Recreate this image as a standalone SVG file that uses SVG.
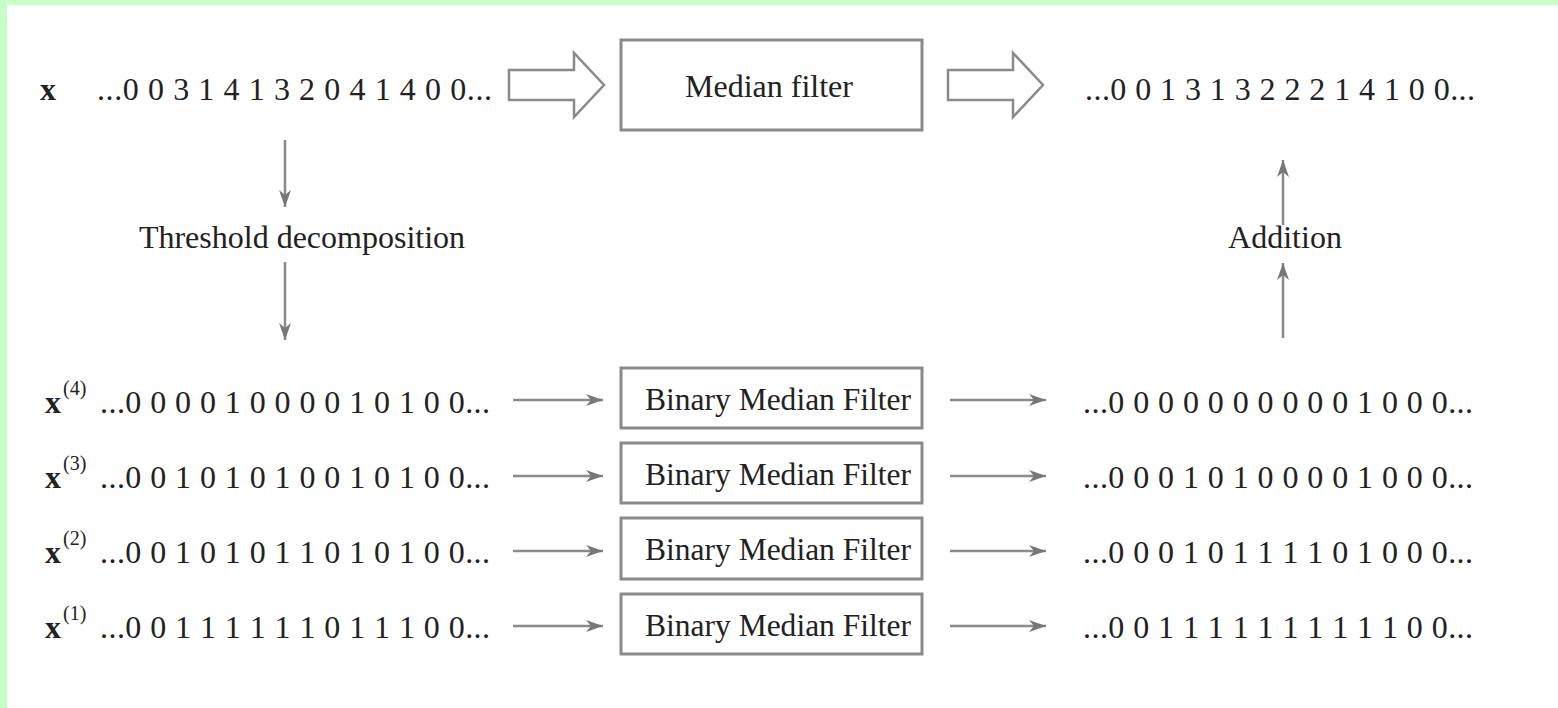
<svg xmlns="http://www.w3.org/2000/svg" width="1558" height="708" viewBox="0 0 1558 708">
  <defs>
    <style>
      .t { font-family: "Liberation Serif", "Times New Roman", serif; font-size: 32px; fill: #222; }
      .b { font-weight: bold; }
      .sup { font-size: 20px; }
      .box { fill: #fff; stroke: #8a8a8a; stroke-width: 3; }
      .hollow { fill: #fff; stroke: #8a8a8a; stroke-width: 2.5; stroke-linejoin: miter; }
      .ln { stroke: #8a8a8a; stroke-width: 2.5; fill: none; }
    </style>
    <marker id="ah" markerUnits="userSpaceOnUse" markerWidth="20" markerHeight="14" viewBox="-18 -7 20 14" refX="0" refY="0" orient="auto">
      <path d="M0,0 L-17,-6 L-12,0 L-17,6 Z" fill="#777"/>
    </marker>
  </defs>
  <rect x="0" y="0" width="1558" height="708" fill="#c6ffc6"/>
  <rect x="7" y="5" width="1551" height="703" fill="#fff"/>

  <g id="input">
    <text class="t b" x="40" y="100">x</text>
    <text class="t" x="97" y="100" textLength="395" lengthAdjust="spacing">...0 0 3 1 4 1 3 2 0 4 1 4 0 0...</text>
  </g>
  <g id="median-filter">
    <rect class="box" x="621" y="40" width="301" height="90"/>
    <text class="t" x="769" y="97" text-anchor="middle">Median filter</text>
  </g>
  <g id="output">
    <text class="t" x="1085" y="100" textLength="390" lengthAdjust="spacing">...0 0 1 3 1 3 2 2 2 1 4 1 0 0...</text>
  </g>
  <g id="threshold-label">
    <text class="t" x="302" y="248" text-anchor="middle">Threshold decomposition</text>
  </g>
  <g id="addition-label">
    <text class="t" x="1285" y="248" text-anchor="middle">Addition</text>
  </g>

  <g id="row4">
    <text class="t b" x="45" y="413">x</text>
    <text class="t sup" x="63" y="395">(4)</text>
    <text class="t" x="100" y="413" textLength="390" lengthAdjust="spacing">...0 0 0 0 1 0 0 0 0 1 0 1 0 0...</text>
  </g>
  <g id="row3">
    <text class="t b" x="45" y="488">x</text>
    <text class="t sup" x="63" y="470">(3)</text>
    <text class="t" x="100" y="488" textLength="390" lengthAdjust="spacing">...0 0 1 0 1 0 1 0 0 1 0 1 0 0...</text>
  </g>
  <g id="row2">
    <text class="t b" x="45" y="563">x</text>
    <text class="t sup" x="63" y="545">(2)</text>
    <text class="t" x="100" y="563" textLength="390" lengthAdjust="spacing">...0 0 1 0 1 0 1 1 0 1 0 1 0 0...</text>
  </g>
  <g id="row1">
    <text class="t b" x="45" y="638">x</text>
    <text class="t sup" x="63" y="620">(1)</text>
    <text class="t" x="100" y="638" textLength="390" lengthAdjust="spacing">...0 0 1 1 1 1 1 1 0 1 1 1 0 0...</text>
  </g>

  <g id="bmf4">
    <rect class="box" x="621" y="368" width="301" height="60"/>
    <text class="t" x="645" y="410" textLength="266" lengthAdjust="spacingAndGlyphs">Binary Median Filter</text>
  </g>
  <g id="bmf3">
    <rect class="box" x="621" y="443" width="301" height="60"/>
    <text class="t" x="645" y="485" textLength="266" lengthAdjust="spacingAndGlyphs">Binary Median Filter</text>
  </g>
  <g id="bmf2">
    <rect class="box" x="621" y="518" width="301" height="61"/>
    <text class="t" x="645" y="560" textLength="266" lengthAdjust="spacingAndGlyphs">Binary Median Filter</text>
  </g>
  <g id="bmf1">
    <rect class="box" x="621" y="594" width="301" height="60"/>
    <text class="t" x="645" y="636" textLength="266" lengthAdjust="spacingAndGlyphs">Binary Median Filter</text>
  </g>

  <g id="out4"><text class="t" x="1083" y="413" textLength="390" lengthAdjust="spacing">...0 0 0 0 0 0 0 0 0 0 1 0 0 0...</text></g>
  <g id="out3"><text class="t" x="1083" y="488" textLength="390" lengthAdjust="spacing">...0 0 0 1 0 1 0 0 0 0 1 0 0 0...</text></g>
  <g id="out2"><text class="t" x="1083" y="563" textLength="390" lengthAdjust="spacing">...0 0 0 1 0 1 1 1 1 0 1 0 0 0...</text></g>
  <g id="out1"><text class="t" x="1083" y="638" textLength="390" lengthAdjust="spacing">...0 0 1 1 1 1 1 1 1 1 1 1 0 0...</text></g>

  <g id="connectors">
    <polygon class="hollow" points="509,70 574,70 574,53 604,85 574,117 574,100 509,100"/>
    <polygon class="hollow" points="948,70 1013,70 1013,53 1043,85 1013,117 1013,100 948,100"/>
    <line class="ln" x1="285" y1="140" x2="285" y2="207" marker-end="url(#ah)"/>
    <line class="ln" x1="285" y1="262" x2="285" y2="340" marker-end="url(#ah)"/>
    <line class="ln" x1="1283" y1="338" x2="1283" y2="263" marker-end="url(#ah)"/>
    <line class="ln" x1="1283" y1="225" x2="1283" y2="160" marker-end="url(#ah)"/>
    <line class="ln" x1="513" y1="400" x2="603" y2="400" marker-end="url(#ah)"/>
    <line class="ln" x1="513" y1="476" x2="603" y2="476" marker-end="url(#ah)"/>
    <line class="ln" x1="513" y1="551" x2="603" y2="551" stroke-width="3.5" marker-end="url(#ah)"/>
    <line class="ln" x1="513" y1="626" x2="603" y2="626" marker-end="url(#ah)"/>
    <line class="ln" x1="950" y1="400" x2="1046" y2="400" marker-end="url(#ah)"/>
    <line class="ln" x1="950" y1="476" x2="1046" y2="476" marker-end="url(#ah)"/>
    <line class="ln" x1="950" y1="551" x2="1046" y2="551" stroke-width="3.5" marker-end="url(#ah)"/>
    <line class="ln" x1="950" y1="626" x2="1046" y2="626" marker-end="url(#ah)"/>
  </g>
</svg>
